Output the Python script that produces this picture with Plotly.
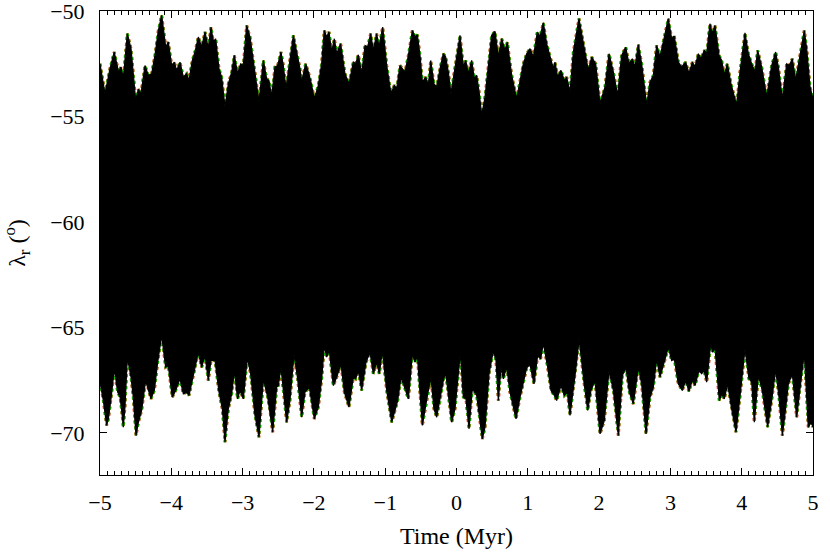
import plotly.graph_objects as go

# upper envelope of lambda_r (Myr, degrees)
upper_t = [
    -5.0, -4.93, -4.86, -4.80, -4.74, -4.706, -4.673, -4.617, -4.565, -4.50,
    -4.462, -4.425, -4.369, -4.322, -4.275, -4.229, -4.182, -4.135, -4.079, -4.042,
    -3.995, -3.958, -3.925, -3.878, -3.831, -3.785, -3.752, -3.705, -3.668, -3.621,
    -3.574, -3.527, -3.481, -3.443, -3.41, -3.378, -3.331, -3.294, -3.247, -3.20,
    -3.153, -3.116, -3.07, -3.027, -2.99, -2.943, -2.896, -2.85, -2.803, -2.77,
    -2.709, -2.663, -2.63, -2.592, -2.546, -2.508, -2.462, -2.429, -2.391, -2.345,
    -2.288, -2.242, -2.195, -2.172, -2.116, -2.078, -2.041, -1.994, -1.938, -1.891,
    -1.854, -1.821, -1.788, -1.751, -1.713, -1.68, -1.625, -1.564, -1.508, -1.447,
    -1.414, -1.377, -1.33, -1.283, -1.246, -1.204, -1.166, -1.12, -1.087, -1.035,
    -0.979, -0.919, -0.872, -0.839, -0.792, -0.722, -0.675, -0.619, -0.582, -0.549,
    -0.512, -0.479, -0.432, -0.395, -0.362, -0.316, -0.278, -0.231, -0.185, -0.152,
    -0.115, -0.077, -0.03, 0.002, 0.049, 0.096, 0.129, 0.166, 0.213, 0.25,
    0.283, 0.320, 0.353, 0.40, 0.447, 0.493, 0.54, 0.587, 0.634, 0.68,
    0.713, 0.774, 0.844, 0.891, 0.937, 0.984, 1.031, 1.078, 1.134, 1.171,
    1.218, 1.265, 1.311, 1.358, 1.381, 1.419, 1.465, 1.512, 1.545, 1.592,
    1.639, 1.671, 1.718, 1.793, 1.849, 1.896, 1.952, 2.013, 2.083, 2.139,
    2.2, 2.26, 2.316, 2.373, 2.419, 2.466, 2.503, 2.55, 2.597, 2.667,
    2.714, 2.761, 2.807, 2.854, 2.901, 2.971, 3.018, 3.055, 3.111, 3.158,
    3.214, 3.261, 3.308, 3.345, 3.392, 3.429, 3.476, 3.509, 3.555, 3.588,
    3.625, 3.682, 3.719, 3.756, 3.798, 3.85, 3.929, 3.976, 4.046, 4.093,
    4.14, 4.187, 4.224, 4.28, 4.35, 4.42, 4.476, 4.514, 4.57, 4.631,
    4.668, 4.71, 4.757, 4.818, 4.878, 4.911, 4.958, 5.0,
]
upper_lam = [
    -52.5, -53.92, -52.73, -51.94, -52.89, -52.65, -53.2, -51.07, -51.78, -54.23,
    -53.71, -53.92, -52.58, -53.05, -52.97, -52.1, -50.92, -50.20, -51.7, -51.47,
    -52.58, -52.42, -52.81, -52.42, -53.13, -52.97, -53.29, -52.34, -51.94, -51.23,
    -51.71, -50.99, -51.78, -50.76, -51.47, -51.31, -52.73, -53.13, -54.55, -53.45,
    -52.89, -52.1, -52.97, -52.5, -52.58, -50.68, -51.23, -52.42, -53.52, -54.31,
    -52.34, -53.21, -53.29, -54.08, -52.65, -52.58, -51.94, -52.58, -53.68, -52.58,
    -51.15, -51.94, -52.73, -53.37, -52.5, -52.89, -53.37, -54.16, -53.52, -52.5,
    -50.92, -51.23, -50.99, -51.94, -51.31, -52.02, -51.55, -52.97, -53.45, -52.42,
    -52.5, -52.07, -52.97, -51.63, -51.71, -51.07, -51.86, -51.07, -51.71, -50.76,
    -52.58, -53.92, -53.52, -53.68, -52.58, -52.89, -52.1, -50.92, -51.23, -51.12,
    -52.1, -53.37, -53.13, -53.52, -52.34, -53.45, -53.60, -52.73, -52.02, -52.18,
    -52.89, -53.92, -52.89, -52.26, -51.15, -52.65, -52.34, -52.97, -52.34, -53.21,
    -53.05, -53.92, -54.95, -54.08, -52.42, -51.15, -50.96, -52.18, -51.31, -51.86,
    -51.47, -53.05, -54.16, -53.29, -52.5, -52.02, -51.78, -52.18, -50.99, -51.23,
    -50.55, -51.55, -52.1, -52.73, -52.42, -53.13, -52.81, -53.29, -53.13, -53.84,
    -51.94, -51.31, -50.35, -51.78, -52.81, -52.18, -52.5, -54.39, -53.6, -52.02,
    -52.89, -54.0, -52.1, -51.71, -52.5, -52.26, -52.65, -51.59, -52.5, -54.47,
    -53.37, -53.05, -51.63, -52.18, -51.39, -50.36, -51.31, -51.18, -52.42, -52.65,
    -52.42, -52.97, -52.42, -52.65, -52.02, -52.26, -51.86, -52.02, -50.6, -51.07,
    -50.68, -52.1, -52.34, -53.05, -52.5, -53.45, -54.47, -52.89, -51.03, -52.02,
    -52.5, -52.89, -51.86, -52.65, -54.08, -52.58, -51.94, -52.65, -54.16, -52.5,
    -52.58, -52.26, -53.29, -52.02, -50.92, -51.78, -53.6, -54.16,
]

# lower envelope of lambda_r
lower_t = [
    -5.0, -4.953, -4.907, -4.883, -4.846, -4.799, -4.752, -4.719, -4.696, -4.673,
    -4.65, -4.617, -4.565, -4.533, -4.495, -4.462, -4.416, -4.36, -4.322, -4.285,
    -4.238, -4.191, -4.135, -4.079, -4.042, -3.986, -3.939, -3.878, -3.831, -3.785,
    -3.752, -3.691, -3.621, -3.574, -3.527, -3.481, -3.443, -3.387, -3.331, -3.284,
    -3.247, -3.20, -3.153, -3.116, -3.07, -3.036, -2.99, -2.934, -2.887, -2.826,
    -2.77, -2.709, -2.648, -2.616, -2.578, -2.522, -2.499, -2.462, -2.415, -2.382,
    -2.336, -2.279, -2.228, -2.172, -2.125, -2.064, -1.994, -1.938, -1.891, -1.854,
    -1.821, -1.784, -1.727, -1.68, -1.62, -1.573, -1.508, -1.447, -1.414, -1.377,
    -1.33, -1.269, -1.213, -1.166, -1.12, -1.082, -1.04, -0.979, -0.909, -0.862,
    -0.825, -0.778, -0.722, -0.675, -0.619, -0.582, -0.549, -0.479, -0.442, -0.404,
    -0.358, -0.316, -0.278, -0.231, -0.185, -0.152, -0.115, -0.068, -0.021, 0.016,
    0.054, 0.096, 0.133, 0.176, 0.222, 0.283, 0.33, 0.362, 0.40, 0.456,
    0.517, 0.554, 0.587, 0.624, 0.657, 0.704, 0.75, 0.835, 0.891, 0.937,
    0.984, 1.031, 1.087, 1.138, 1.18, 1.218, 1.279, 1.325, 1.372, 1.405,
    1.465, 1.512, 1.554, 1.592, 1.639, 1.671, 1.72, 1.788, 1.84, 1.886,
    1.943, 2.013, 2.073, 2.139, 2.2, 2.27, 2.326, 2.377, 2.424, 2.48,
    2.55, 2.597, 2.658, 2.714, 2.761, 2.807, 2.854, 2.901, 2.971, 3.018,
    3.055, 3.111, 3.167, 3.214, 3.261, 3.308, 3.345, 3.401, 3.438, 3.471,
    3.509, 3.565, 3.593, 3.625, 3.686, 3.719, 3.756, 3.803, 3.859, 3.92,
    3.985, 4.046, 4.102, 4.14, 4.177, 4.233, 4.289, 4.364, 4.42, 4.476,
    4.523, 4.57, 4.607, 4.654, 4.71, 4.771, 4.818, 4.878, 4.934, 4.972,
    5.0,
]
lower_lam = [
    -67.6, -68.47, -69.65, -69.34, -68.39, -66.97, -68.07, -68.31, -68.94, -69.73,
    -68.78, -66.41, -67.36, -68.31, -70.13, -69.50, -68.94, -67.52, -67.91, -68.39,
    -67.99, -66.65, -65.38, -66.89, -66.81, -68.31, -67.99, -67.44, -68.15, -68.07,
    -68.23, -67.28, -66.18, -66.89, -66.33, -67.52, -66.57, -66.57, -68.07, -68.86,
    -70.44, -68.86, -68.15, -67.04, -68.39, -67.99, -68.39, -66.41, -67.2, -69.18,
    -70.21, -67.44, -68.31, -68.94, -69.97, -67.83, -67.76, -66.89, -68.31, -69.50,
    -68.47, -66.25, -67.44, -69.26, -68.07, -67.83, -69.34, -68.78, -67.44, -65.86,
    -66.41, -66.10, -67.76, -67.36, -66.73, -68.07, -68.78, -67.36, -67.44, -67.04,
    -67.99, -66.65, -66.18, -67.2, -66.65, -67.2, -66.10, -67.99, -69.50, -68.94,
    -68.47, -67.36, -67.91, -68.39, -66.25, -66.65, -66.33, -69.65, -68.94, -68.15,
    -67.36, -68.86, -69.26, -68.47, -67.52, -67.12, -68.07, -69.50, -68.86, -67.6,
    -66.18, -68.31, -68.39, -69.81, -67.91, -68.23, -69.42, -70.29, -69.73, -67.2,
    -66.10, -66.57, -68.47, -66.89, -67.44, -66.86, -68.07, -69.34, -68.31, -67.6,
    -66.92, -66.76, -67.68, -66.33, -66.49, -65.75, -66.89, -67.99, -68.23, -68.47,
    -67.76, -68.23, -68.07, -69.18, -67.83, -67.04, -65.54, -67.6, -68.94, -67.99,
    -67.52, -70.05, -69.42, -67.04, -67.99, -70.13, -67.28, -66.89, -68.07, -68.63,
    -66.89, -67.68, -70.05, -68.31, -67.83, -66.49, -67.36, -66.81, -65.94, -66.57,
    -66.49, -67.68, -67.99, -67.52, -68.03, -67.49, -67.76, -67.04, -67.2, -67.01,
    -67.6, -65.78, -66.18, -65.94, -68.47, -68.15, -68.39, -67.68, -68.86, -69.97,
    -67.99, -66.02, -67.44, -67.6, -69.5, -67.28, -67.99, -69.73, -68.47, -66.97,
    -68.31, -70.13, -69.10, -67.68, -67.2, -69.26, -67.83, -66.18, -69.73, -69.50,
    -69.73,
]

x_ticks = [-5, -4, -3, -2, -1, 0, 1, 2, 3, 4, 5]
y_ticks = [-50, -55, -60, -65, -70]

serif = "Liberation Serif, Times New Roman, serif"

fig = go.Figure()

# thin red / green runs peeking out from under the black one
for colour, width, dash in [("#ff0000", 3, "dot"), ("#00dd00", 2.5, "dot")]:
    for tt, ll in [(upper_t, upper_lam), (lower_t, lower_lam)]:
        fig.add_trace(go.Scatter(
            x=tt, y=ll, mode="lines",
            line=dict(color=colour, width=width, dash=dash),
            hoverinfo="skip",
        ))

# black band: upper envelope out, lower envelope back
band_t = upper_t + lower_t[::-1]
band_lam = upper_lam + lower_lam[::-1]
fig.add_trace(go.Scatter(
    x=band_t, y=band_lam, mode="lines",
    fill="toself", fillcolor="black",
    line=dict(color="black", width=1.2),
    hoverinfo="skip",
))

axis_common = dict(
    showline=True,
    linecolor="black",
    linewidth=1,
    mirror="allticks",
    ticks="inside",
    tickcolor="black",
    ticklen=7,
    tickwidth=1,
    showgrid=False,
    zeroline=False,
    automargin=False,
    ticklabeloverflow="allow",
    tickfont=dict(family=serif, size=22, color="black"),
)

fig.update_xaxes(
    **axis_common,
    range=[-5, 5],
    tickvals=x_ticks,
    ticklabelstandoff=8,
    minor=dict(ticks="inside", ticklen=4, tickcolor="black", dtick=0.1, showgrid=False),
    title=dict(text="Time (Myr)", font=dict(family=serif, size=24, color="black"), standoff=12),
)
fig.update_yaxes(
    **axis_common,
    range=[-72, -49.995],
    tickvals=y_ticks,
    ticklabelstandoff=10,
    title=dict(text="λ<sub>r</sub> (<sup>o</sup>)", font=dict(family=serif, size=24, color="black"), standoff=19),
)

fig.update_layout(
    width=830,
    height=553,
    margin=dict(l=100, r=17, t=11, b=78, autoexpand=False),
    plot_bgcolor="white",
    paper_bgcolor="white",
    showlegend=False,
)

# page body has a default 8px margin; drop it so the figure sits at 0,0
fig.write_html(
    "out.html",
    config={"displayModeBar": False},
    post_script="document.body.style.margin='0';",
)
